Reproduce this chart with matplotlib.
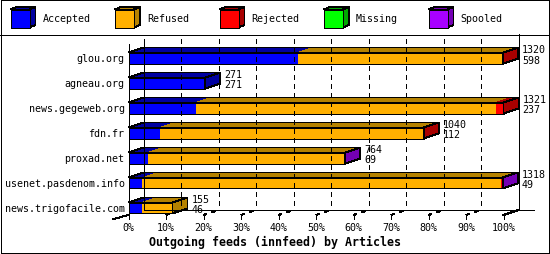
import numpy as np
import matplotlib.pyplot as plt
from matplotlib.patches import Polygon, Rectangle
from matplotlib.transforms import ScaledTranslation, IdentityTransform

# data (articles per peer)
hosts = ['glou.org', 'agneau.org', 'news.gegeweb.org', 'fdn.fr',
         'proxad.net', 'usenet.pasdenom.info', 'news.trigofacile.com']
accepted = [598, 271, 237, 112, 69, 49, 46]
refused = [719, 0, 1057, 925, 693, 1263, 109]
rejected = [3, 0, 27, 3, 0, 4, 0]
missing = [0, 0, 0, 0, 0, 0, 0]
spooled = [0, 0, 0, 0, 2, 2, 0]
totals = [1320, 271, 1321, 1040, 764, 1318, 155]

series = ['Accepted', 'Refused', 'Rejected', 'Missing', 'Spooled']
values = [accepted, refused, rejected, missing, spooled]
face = ['#0000ff', '#ffb000', '#ff0000', '#00ff00', '#a800ff']
dark = ['#0000a0', '#b58200', '#a80000', '#00a800', '#7400b4']

W, H, DPI = 550, 255, 100
DX, DY = 15, 5          # fake 3d depth, pixels
HALF = 0.22             # half bar height (rows)
CEIL, FLOOR = -0.58, 6.28
FONT = 'DejaVu Sans Mono'
FS = 7.2
LW = 0.72               # one pixel
AA = False              # crisp, like the gd original

plt.rcParams['lines.scale_dashes'] = False

fig = plt.figure(figsize=(W / DPI, H / DPI), dpi=DPI)
fig.patch.set_facecolor('white')

# background axes in pixel units for frame + legend
bg = fig.add_axes([0, 0, 1, 1])
bg.set_xlim(0, W)
bg.set_ylim(H, 0)
bg.axis('off')
bg.add_patch(Rectangle((0.5, 0.5), W - 1.5, H - 1.5, fill=False, ec='black', lw=LW, antialiased=AA))
bg.plot([0, W], [35.5, 35.5], color='black', lw=LW, antialiased=AA)

for k, name in enumerate(series):
    x = 10.5 + k * 104.5
    bg.add_patch(Polygon([(x, 10.5), (x + 19, 10.5), (x + 25, 8), (x + 6, 8)],
                         fc=dark[k], ec='black', lw=LW, antialiased=AA))
    bg.add_patch(Polygon([(x + 19, 10.5), (x + 25, 8), (x + 25, 26), (x + 19, 28.5)],
                         fc=dark[k], ec='black', lw=LW, antialiased=AA))
    bg.add_patch(Rectangle((x, 10.5), 19, 18, fc=face[k], ec='black', lw=LW, antialiased=AA))
    bg.text(x + 32, 19.5, name, family=FONT, fontsize=FS, va='center', ha='left')

# main axes: x in articles, y in rows
xmax = max(totals)
n = len(hosts)
ax = fig.add_axes([128.5 / W, (H - (46.5 + 25 * n)) / H, 375 / W, 25 * n / H])
ax.set_xlim(0, xmax)
ax.set_ylim(n - 0.5, -0.5)
ax.axis('off')

back = ax.transData + ScaledTranslation(DX / DPI, DY / DPI, fig.dpi_scale_trans)
ident = IdentityTransform()


def P(x, y):
    return ax.transData.transform((x, y))


def poly(pts, **kw):
    ax.add_patch(Polygon(pts, transform=ident, clip_on=False, antialiased=AA, **kw))


def seg(a, b, **kw):
    ax.plot([a[0], b[0]], [a[1], b[1]], transform=ident, color='black', lw=LW,
            clip_on=False, antialiased=AA, **kw)


ticks = np.arange(0, 11) * xmax / 10

# back wall grid + floor
for t in ticks[1:-1]:
    ax.plot([t, t], [CEIL, FLOOR], transform=back, color='black', lw=LW,
            dashes=(3.0, 3.0), clip_on=False, antialiased=AA)
    a = P(t, FLOOR)
    seg(a, a + [DX, DY], dashes=(2.5, 4.0))
ax.plot([0, 0], [CEIL + 0.02, FLOOR], transform=back, color='black', lw=LW, clip_on=False, antialiased=AA)
ax.plot([xmax, xmax], [-0.78, FLOOR], transform=back, color='black', lw=LW, clip_on=False, antialiased=AA)
ax.plot([0, 0], [CEIL, FLOOR], color='black', lw=LW, clip_on=False, antialiased=AA)
ax.plot([0, xmax * 1.04], [FLOOR, FLOOR], transform=back, color='black', lw=LW, clip_on=False, antialiased=AA)
a = P(0, FLOOR)
seg(a + [-DX, -4], a)
a = P(xmax, FLOOR)
seg(a, a + [DX, DY])

for k, t in enumerate(ticks):
    a = P(t, FLOOR)
    seg(a, a + [0, -4])
    ax.annotate(f'{k * 10}%', (t, FLOOR), xytext=(0, -12), textcoords='offset pixels',
                ha='center', va='center', family=FONT, fontsize=FS)

# bars
for i in range(n):
    top, bot = i - HALF, i + HALF
    left = 0
    last = 0
    for s in range(len(series)):
        v = values[s][i]
        if v <= 0:
            continue
        ax.add_patch(Rectangle((left, top), v, bot - top, fc=face[s], ec='none',
                               clip_on=False, antialiased=AA))
        a, b = P(left, top), P(left + v, top)
        poly([a, b, b + [DX, DY], a + [DX, DY]], fc=dark[s], ec='none')
        left += v
        last = s
    end = totals[i]
    a, b = P(0, top), P(end, top)
    poly([a, b, b + [DX, DY], a + [DX, DY]], fill=False, ec='black', lw=LW)
    ax.add_patch(Rectangle((0, top), end, bot - top, fill=False, ec='black', lw=LW,
                           clip_on=False, antialiased=AA))
    a, b = P(end, top), P(end, bot)
    poly([a, b, b + [DX, DY], a + [DX, DY]], fc=dark[last], ec='black', lw=LW)

    ax.annotate(hosts[i], (0, i), xytext=(-4, 0), textcoords='offset pixels',
                ha='right', va='center', family=FONT, fontsize=FS)
    ax.annotate(str(totals[i]), (end, i), xytext=(DX + 4, 9), textcoords='offset pixels',
                ha='left', va='center', family=FONT, fontsize=FS)
    ax.annotate(str(accepted[i]), (end, i), xytext=(DX + 4, -1.5), textcoords='offset pixels',
                ha='left', va='center', family=FONT, fontsize=FS)

fig.text(0.5, 1 - 242 / H, 'Outgoing feeds (innfeed) by Articles', ha='center', va='center',
         family=FONT, fontsize=8.4, fontweight='bold')

fig.savefig('out.png', dpi=DPI)
